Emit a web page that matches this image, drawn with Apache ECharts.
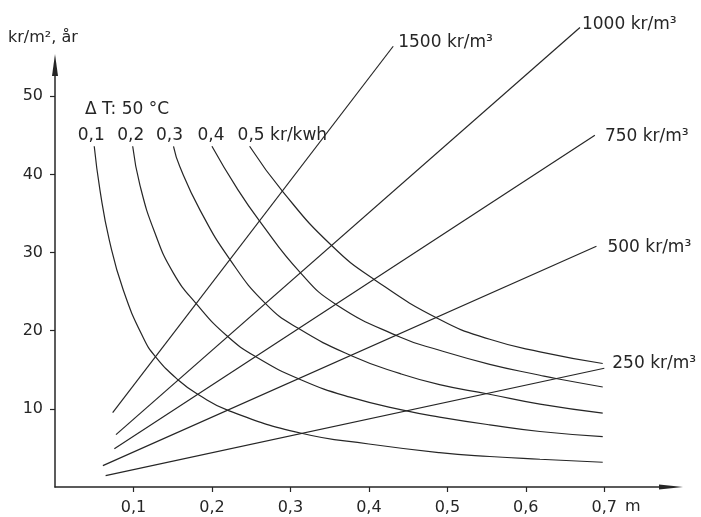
<!DOCTYPE html>
<html>
<head>
<meta charset="utf-8">
<script src="https://cdn.jsdelivr.net/npm/echarts@6/dist/echarts.min.js"></script>
<style>
  html, body { margin: 0; padding: 0; background: #ffffff; }
  #chart { width: 701px; height: 517px; }
</style>
</head>
<body>
<div id="chart"></div>
<script>
// Axis ticks
const xTicks = [0.1, 0.2, 0.3, 0.4, 0.5, 0.6, 0.7];
const yTicks = [10, 20, 30, 40, 50];

// Heat-loss cost curves, one per energy price (kr/kWh)
const priceLabels = ['0,1', '0,2', '0,3', '0,4', '0,5 kr/kwh'];
const p01X = [0.050, 0.0573, 0.0692, 0.087, 0.1125, 0.1287, 0.157, 0.183, 0.222, 0.314, 0.40, 0.49, 0.554, 0.618, 0.698];
const p01Y = [43.6, 38.0, 31.6, 25.2, 19.1, 16.6, 13.7, 11.8, 9.74, 6.88, 5.5, 4.4, 3.9, 3.55, 3.17];
const p02X = [0.099, 0.1083, 0.127, 0.1507, 0.1805, 0.219, 0.257, 0.314, 0.376, 0.448, 0.49, 0.554, 0.618, 0.698];
const p02Y = [43.6, 38.6, 32.6, 27.4, 23.4, 19.35, 16.6, 13.7, 11.5, 9.74, 8.95, 7.95, 7.1, 6.45];
const p03X = [0.151, 0.159, 0.185, 0.223, 0.268, 0.31, 0.38, 0.44, 0.49, 0.552, 0.618, 0.698];
const p03Y = [43.6, 41.0, 35.4, 29.1, 23.5, 20.3, 16.7, 14.5, 13.1, 11.9, 10.6, 9.45];
const p04X = [0.2, 0.2314, 0.261, 0.312, 0.3576, 0.4395, 0.49, 0.554, 0.618, 0.64, 0.698];
const p04Y = [43.6, 38.3, 34.0, 27.5, 23.4, 19.2, 17.5, 15.7, 14.3, 13.85, 12.8];
const p05X = [0.248, 0.291, 0.3525, 0.4076, 0.491, 0.554, 0.618, 0.698];
const p05Y = [43.6, 37.7, 30.9, 26.5, 21.4, 18.9, 17.3, 15.8];

// Insulation cost lines, one per material price (kr/m³)
const volumeLabels = ['250 kr/m³', '500 kr/m³', '750 kr/m³', '1000 kr/m³', '1500 kr/m³'];
const v250X = [0.0645, 0.700];
const v250Y = [1.45, 15.2];
const v500X = [0.061, 0.690];
const v500Y = [2.73, 30.8];
const v750X = [0.0756, 0.688];
const v750Y = [4.9, 45.0];
const v1000X = [0.0777, 0.669];
const v1000Y = [6.7, 58.8];
const v1500X = [0.0735, 0.431];
const v1500Y = [9.53, 56.4];

const INK = '#262626';
const FONT = 'DejaVu Sans';

function labelStyle(extra) {
  return Object.assign({
    show: true, color: INK, fontFamily: FONT, fontSize: 17
  }, extra);
}

function curveSeries(xs, ys, text, labelOpts) {
  return {
    type: 'line', clip: false, silent: true,
    smooth: 0.5,
    showSymbol: true, showAllSymbol: true, symbol: 'circle', symbolSize: 0,
    lineStyle: { color: INK, width: 1.2 },
    emphasis: { disabled: true },
    data: xs.map((x, i) => i === 0
      ? { value: [x, ys[i]], label: labelStyle(Object.assign({ formatter: text, position: 'top', distance: 2 }, labelOpts)) }
      : [x, ys[i]])
  };
}

function costLine(xs, ys, text, labelOpts) {
  const last = xs.length - 1;
  return {
    type: 'line', clip: false, silent: true,
    showSymbol: true, showAllSymbol: true, symbol: 'circle', symbolSize: 0,
    lineStyle: { color: INK, width: 1.2 },
    emphasis: { disabled: true },
    data: xs.map((x, i) => i === last
      ? { value: [x, ys[i]], label: labelStyle(Object.assign({ formatter: text, position: 'right' }, labelOpts)) }
      : [x, ys[i]])
  };
}

const chart = echarts.init(document.getElementById('chart'));
chart.setOption({
  animation: false,
  backgroundColor: '#ffffff',
  grid: { left: 55, right: 30, top: 65, bottom: 30, containLabel: false },
  xAxis: {
    type: 'value', min: 0, max: 0.785,
    splitLine: { show: false },
    axisLine: {
      lineStyle: { color: INK, width: 1.5 },
      symbol: ['none', 'triangle'], symbolSize: [5, 24]
    },
    axisTick: { customValues: xTicks, length: 5, lineStyle: { color: INK, width: 1.2 } },
    axisLabel: {
      customValues: xTicks, margin: 13, color: INK, fontFamily: FONT, fontSize: 16,
      formatter: v => v.toFixed(1).replace('.', ',')
    }
  },
  yAxis: {
    type: 'value', min: 0, max: 54,
    splitLine: { show: false },
    axisLine: {
      lineStyle: { color: INK, width: 1.5 },
      symbol: ['none', 'triangle'], symbolSize: [6, 22]
    },
    axisTick: { customValues: yTicks, length: 5, lineStyle: { color: INK, width: 1.2 } },
    axisLabel: {
      customValues: yTicks, margin: 12, color: INK, fontFamily: FONT, fontSize: 16
    }
  },
  graphic: [
    { type: 'text', left: 8, top: 30, silent: true,
      style: { text: 'kr/m², år', fill: INK, font: '16px "DejaVu Sans"' } },
    { type: 'text', left: 85, top: 101, silent: true,
      style: { text: 'Δ T: 50 °C', fill: INK, font: '17px "DejaVu Sans"' } },
    { type: 'text', left: 625, top: 499, silent: true,
      style: { text: 'm', fill: INK, font: '16px "DejaVu Sans"' } }
  ],
  series: [
    curveSeries(p01X, p01Y, priceLabels[0], { offset: [-3, 0] }),
    curveSeries(p02X, p02Y, priceLabels[1], { offset: [-2, 0] }),
    curveSeries(p03X, p03Y, priceLabels[2], { offset: [-4, 0] }),
    curveSeries(p04X, p04Y, priceLabels[3], { offset: [-1, 0] }),
    curveSeries(p05X, p05Y, priceLabels[4], { align: 'left', offset: [-12, 0] }),
    costLine(v250X, v250Y, volumeLabels[0], { distance: 8, offset: [0, -5] }),
    costLine(v500X, v500Y, volumeLabels[1], { distance: 11, offset: [0, 1] }),
    costLine(v750X, v750Y, volumeLabels[2], { distance: 10, offset: [0, 1] }),
    costLine(v1000X, v1000Y, volumeLabels[3], { distance: 2, offset: [0, -3] }),
    costLine(v1500X, v1500Y, volumeLabels[4], { distance: 5, offset: [0, -4] })
  ]
});
</script>
</body>
</html>
